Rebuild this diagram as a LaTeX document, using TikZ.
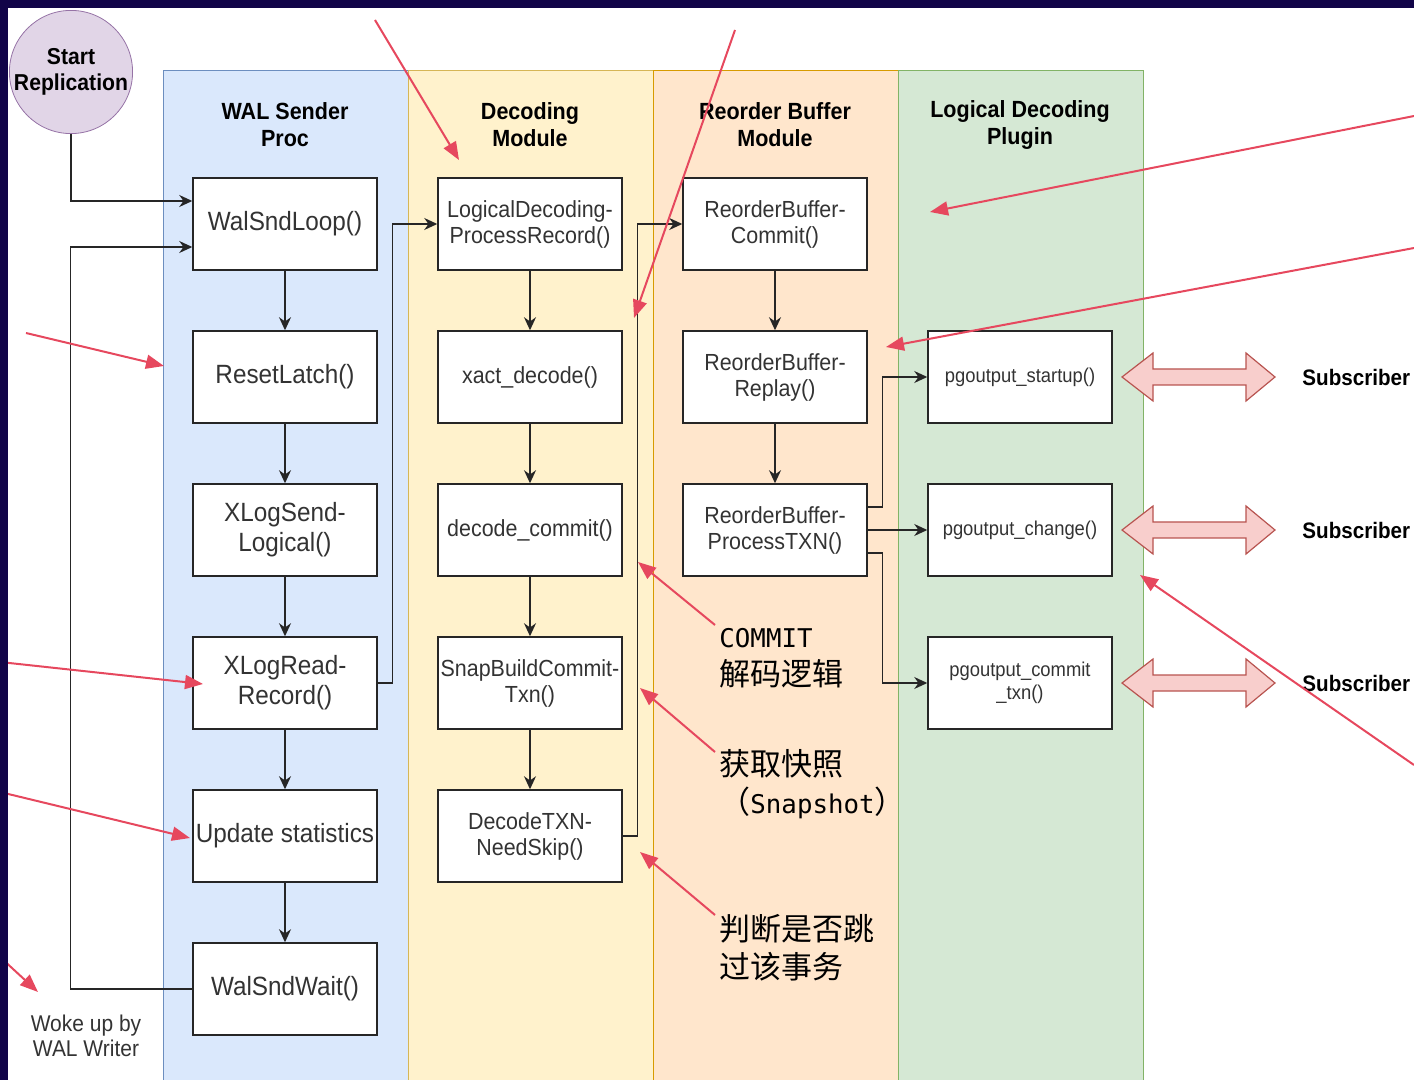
\documentclass[tikz,border=0pt]{standalone}
\usepackage{fontspec}
\setmainfont{Liberation Sans}[FakeStretch=0.92]
\newfontfamily\cjk{Noto Sans CJK SC}
\newfontfamily\latinmono{DejaVu Sans Mono}
\newcommand{\monoword}[1]{{\latinmono\fontsize{12.9}{19}\selectfont #1}}
\usetikzlibrary{arrows.meta,calc}

\definecolor{navyband}{RGB}{17,4,72}
\definecolor{bluefill}{HTML}{DAE8FC}
\definecolor{blueline}{HTML}{6C8EBF}
\definecolor{yellowfill}{HTML}{FFF2CC}
\definecolor{yellowline}{HTML}{D6B656}
\definecolor{orangefill}{HTML}{FFE6CC}
\definecolor{orangeline}{HTML}{D79B00}
\definecolor{greenfill}{HTML}{D5E8D4}
\definecolor{greenline}{HTML}{82B366}
\definecolor{purplefill}{HTML}{E1D5E7}
\definecolor{purpleline}{HTML}{9673A6}
\definecolor{pinkfill}{HTML}{F8CECC}
\definecolor{pinkline}{HTML}{B85450}
\definecolor{notered}{RGB}{230,72,94}

\begin{document}
\begin{tikzpicture}[x=0.5pt,y=-0.5pt,
    fnbox/.style={draw=black!85, line width=0.75pt, fill=white, minimum width=92pt,
        minimum height=46pt, inner sep=1pt, align=center, text=black!80},
    walbox/.style={fnbox, font=\fontsize{13.2}{15}\selectfont},
    decbox/.style={fnbox, font=\fontsize{11.65}{13}\selectfont},
    plugbox/.style={fnbox, font=\fontsize{10}{11.5}\selectfont},
    lanetitle/.style={font=\bfseries\fontsize{11.7}{13.5}\selectfont, align=center},
    conn/.style={-{Stealth[length=6.5pt,width=6pt]}, line width=0.65pt, black!85},
    note/.style={-{Triangle[length=9pt,width=7pt]}, line width=1pt, notered},
    cjknote/.style={font=\cjk\fontsize{15.5}{19}\selectfont, align=left, anchor=west, inner sep=0pt}
]
\useasboundingbox (0,0) rectangle (1414,1080);
\clip (0,0) rectangle (1414,1080);

% Swimlanes
\foreach \x/\c in {163/blue, 408/yellow, 653/orange, 898/green} {
    \filldraw[fill=\c fill, draw=\c line, line width=0.5pt] (\x,71) rectangle ++(245,1040);
}
\node[lanetitle] (t1) at (285,125) {WAL Sender\\Proc};
\node[lanetitle] (t2) at (530,125) {Decoding\\Module};
\node[lanetitle] (t3) at (775,125) {Reorder Buffer\\Module};
\node[lanetitle] (t4) at (1020,125) {Logical Decoding\\Plugin};

% Start
\node[circle, draw=purpleline, fill=purplefill, minimum size=61pt, inner sep=0pt,
    align=center, font=\bfseries\fontsize{11.5}{13}\selectfont] (start) at (71,72) {Start\\Replication};

% WAL sender
\node[walbox] (loop) at (285,224) {WalSndLoop()};
\node[walbox] (latch) at (285,377) {ResetLatch()};
\node[walbox] (sendlog) at (285,530) {XLogSend-\\Logical()};
\node[walbox] (readrec) at (285,683) {XLogRead-\\Record()};
\node[walbox] (stats) at (285,836) {Update statistics};
\node[walbox] (wait) at (285,989) {WalSndWait()};

% Decoding module
\node[decbox] (procrec) at (530,224) {LogicalDecoding-\\ProcessRecord()};
\node[decbox] (xact) at (530,377) {xact\_decode()};
\node[decbox] (dcommit) at (530,530) {decode\_commit()};
\node[decbox] (snap) at (530,683) {SnapBuildCommit-\\Txn()};
\node[decbox] (skip) at (530,836) {DecodeTXN-\\NeedSkip()};

% Reorder buffer
\node[decbox] (rbcommit) at (775,224) {ReorderBuffer-\\Commit()};
\node[decbox] (replay) at (775,377) {ReorderBuffer-\\Replay()};
\node[decbox] (proctxn) at (775,530) {ReorderBuffer-\\ProcessTXN()};

% Plugin
\node[plugbox] (startup) at (1020,377) {pgoutput\_startup()};
\node[plugbox] (change) at (1020,530) {pgoutput\_change()};
\node[plugbox] (ctxn) at (1020,683) {pgoutput\_commit\\\_txn()};

% Flow
\foreach \a/\b in {loop/latch, latch/sendlog, sendlog/readrec, readrec/stats, stats/wait,
    procrec/xact, xact/dcommit, dcommit/snap, snap/skip, rbcommit/replay, replay/proctxn} {
    \draw[conn] (\a) -- (\b);
}
\draw[conn] (start.south) |- ($(loop.west)+(0,-23)$);
\draw[conn] (wait.west) -- ++(-122,0) |- ($(loop.west)+(0,23)$);
\draw[conn] (readrec.east) -- ++(15,0) |- (procrec.west);
\draw[conn] (skip.east) -- ++(15,0) |- (rbcommit.west);
\draw[conn] ($(proctxn.east)+(0,-23)$) -- ++(15,0) |- (startup.west);
\draw[conn] (proctxn.east) -- (change.west);
\draw[conn] ($(proctxn.east)+(0,23)$) -- ++(15,0) |- (ctxn.west);

% Subscribers
\foreach \y/\n in {377/s1, 530/s2, 683/s3} {
    \filldraw[fill=pinkfill, draw=pinkline, line width=0.6pt] (1122,\y) -- (1153,\y-24) -- (1153,\y-8)
        -- (1246,\y-8) -- (1246,\y-24) -- (1275,\y) -- (1246,\y+24) -- (1246,\y+8)
        -- (1153,\y+8) -- (1153,\y+24) -- cycle;
    \node[anchor=west, inner sep=0pt, font=\bfseries\fontsize{11.2}{13}\selectfont] (\n) at (1302,\y) {Subscriber};
}

% Notes
\node[align=center, text=black!80, font=\fontsize{11.4}{12.5}\selectfont] (woke) at (86,1036) {Woke up by\\WAL Writer};
\node[cjknote] (n1) at (719,658) {\monoword{COMMIT}\\解码逻辑};
\node[cjknote] (n2) at (719,784) {获取快照\\（\monoword{Snapshot}）};
\node[cjknote] (n3) at (719,948) {判断是否跳\\过该事务};

% Red arrows
\draw[note] (375,20) -- (459,160);
\draw[note] (735,30) -- (634,318);
\draw[note] (1414,116) -- (930,212);
\draw[note] (1414,248) -- (886,347);
\draw[note] (26,333) -- (164,366);
\draw[note] (0,662) -- (203,684);
\draw[note] (0,792) -- (190,838);
\draw[note] (0,957) -- (38,992);
\draw[note] (715,625) -- (638,562);
\draw[note] (715,752) -- (640,688);
\draw[note] (715,915) -- (640,852);
\draw[note] (1414,765) -- (1140,575);

% Frame
\fill[navyband] (0,0) rectangle (1414,8);
\fill[navyband] (0,0) rectangle (8,1080);

\end{tikzpicture}
\end{document}
